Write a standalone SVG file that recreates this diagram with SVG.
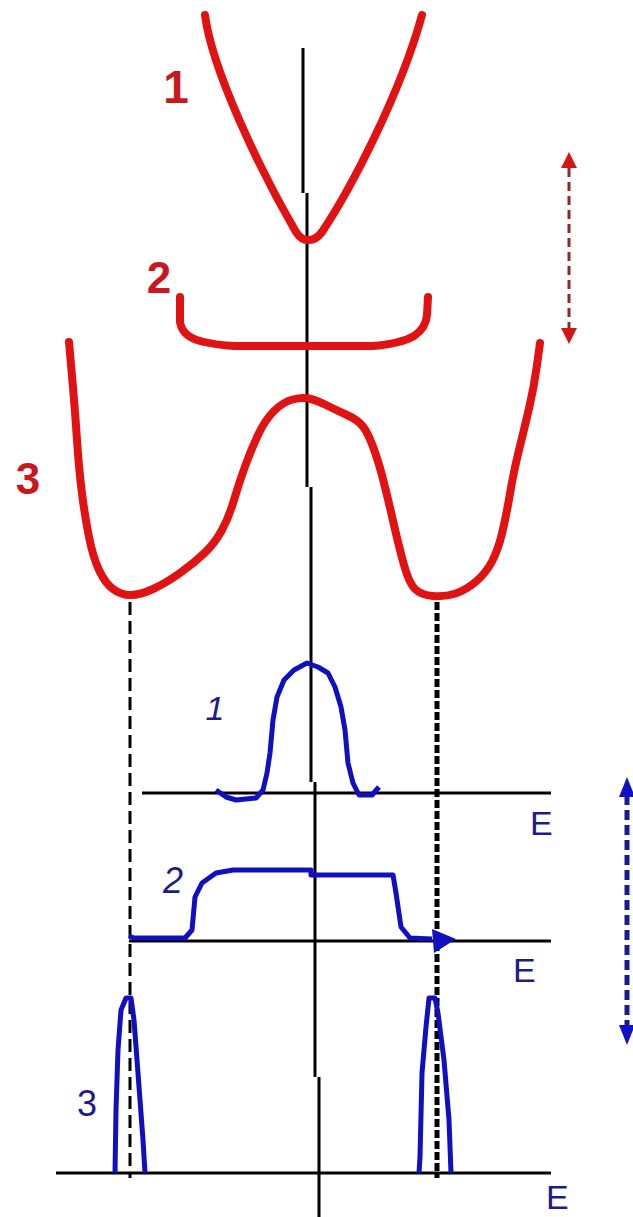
<svg xmlns="http://www.w3.org/2000/svg" width="633" height="1217" viewBox="0 0 633 1217">
<defs>
<style>
.red{fill:none;stroke:#e01212;stroke-width:8;stroke-linejoin:round;stroke-linecap:round}
.blue{fill:none;stroke:#1010c0;stroke-width:5;stroke-linejoin:round;stroke-linecap:butt}
.ax{fill:none;stroke:#000;stroke-width:3}
.lr{font-family:"Liberation Sans",Arial,sans-serif;font-weight:bold;fill:#c8181e;text-anchor:middle}
.lb{font-family:"Liberation Sans",Arial,sans-serif;fill:#1c1c88;text-anchor:middle}
.e{font-family:"Liberation Sans",Arial,sans-serif;fill:#1c1c88;font-size:34px}
</style>
</defs>
<rect width="633" height="1217" fill="#fff"/>
<g id="axis">
<path class="ax" d="M303,48V193M307,193V487M311,487V782M315,782V1077M319,1077V1217"/>
<path class="ax" d="M142,793H551M129,941H551M56,1173H551"/>
</g>
<g id="connectors">
<path fill="none" stroke="#000" stroke-width="3" stroke-dasharray="13 6" d="M130,602V1178"/>
<path fill="none" stroke="#000" stroke-width="5" stroke-dasharray="8 3" d="M437,602V1178"/>
</g>
<g id="curve1">
<path class="red" d="M205,15 C212,70 260,170 296,232 Q302,241 309,240 Q316,240 322,232 C350,190 400,95 422,15"/>
<text class="lr" x="176" y="103" font-size="46">1</text>
</g>
<g id="curve2">
<path class="red" d="M180,297 L180,322 Q182,336 200,341 Q215,345 235,346 L372,346 Q400,344 414,336 Q426,328 427,315 L428,297"/>
<text class="lr" x="159" y="293" font-size="44">2</text>
</g>
<g id="curve3">
<path class="red" d="M69,342 L72,376 Q75,410 77,440 Q79,470 82,493.5 Q85,517 89,537 Q93,557 99,570 Q105,583 113,589 Q121,595 130.5,595 Q140,595 153,589 Q166,583 180,573 Q194,563 204.5,553 Q215,543 222,530 Q229,517 234,500 Q239,483 245,466.5 Q251,450 258,435 Q265,420 274,411 Q283,402 292.5,399.5 Q302,397 309,398.5 Q316,400 326,405 Q336,410 347,415 Q358,420 363,426.5 Q368,433 373.5,448 Q379,463 384,483 Q389,503 394,525 Q399,547 404,565 Q409,583 415,589 Q421,595 433,596 Q445,597 455.5,593.5 Q466,590 476,581.5 Q486,573 492,561.5 Q498,550 502,533.5 Q506,517 510,493.5 Q514,470 519,450 Q524,430 529,408.5 Q534,387 537,365 L540,343"/>
<text class="lr" x="28" y="494" font-size="44">3</text>
</g>
<g id="red-arrow">
<path fill="none" stroke="#8a2a2a" stroke-width="3" stroke-dasharray="9 5" d="M569,168V328"/>
<polygon fill="#d41515" points="569,152 561,168 577,168"/>
<polygon fill="#d41515" points="569,344 561,328 577,328"/>
</g>
<g id="dos1">
<polyline class="blue" points="216,790 226,797 236,800 256,798 263,790 267,773 270,753 273,720 277,697 284,680 294,670 307,663 318,667 328,673 335,687 341,707 345,730 348,763 353,783 359,795 372,795 379,787"/>
<text class="lb" x="215" y="720" font-size="34" font-style="italic">1</text>
</g>
<g id="dos2">
<polyline class="blue" points="129,936 134,938 185,938 192,930 195,897 202,883 216,873 233,870 311,870 311,875 393,875 396,893 401,927 410,938 432,939"/>
<polygon fill="#1010c0" points="432,929 456,939 434,953"/>
<text class="lb" x="173" y="893" font-size="36" font-style="italic">2</text>
</g>
<g id="dos3">
<polyline class="blue" points="115,1173 116,1110 118,1050 121,1010 126,998 131,998 134,1020 137,1060 140,1100 143,1140 145,1173"/>
<polyline class="blue" points="419,1173 420,1157 422,1073 426,1027 429,998 435,998 438,1013 444,1060 449,1120 451,1173"/>
<text class="lb" x="87" y="1116" font-size="36">3</text>
</g>
<g id="blue-arrow">
<path fill="none" stroke="#1a1a90" stroke-width="5" stroke-dasharray="10 5" d="M627,795V1027"/>
<polygon fill="#1010c8" points="627,777 619,797 635,797"/>
<polygon fill="#1010c8" points="627,1045 619,1025 635,1025"/>
</g>
<g id="labels">
<text class="e" x="530" y="835">E</text>
<text class="e" x="513" y="982">E</text>
<text class="e" x="546" y="1209">E</text>
</g>
</svg>
